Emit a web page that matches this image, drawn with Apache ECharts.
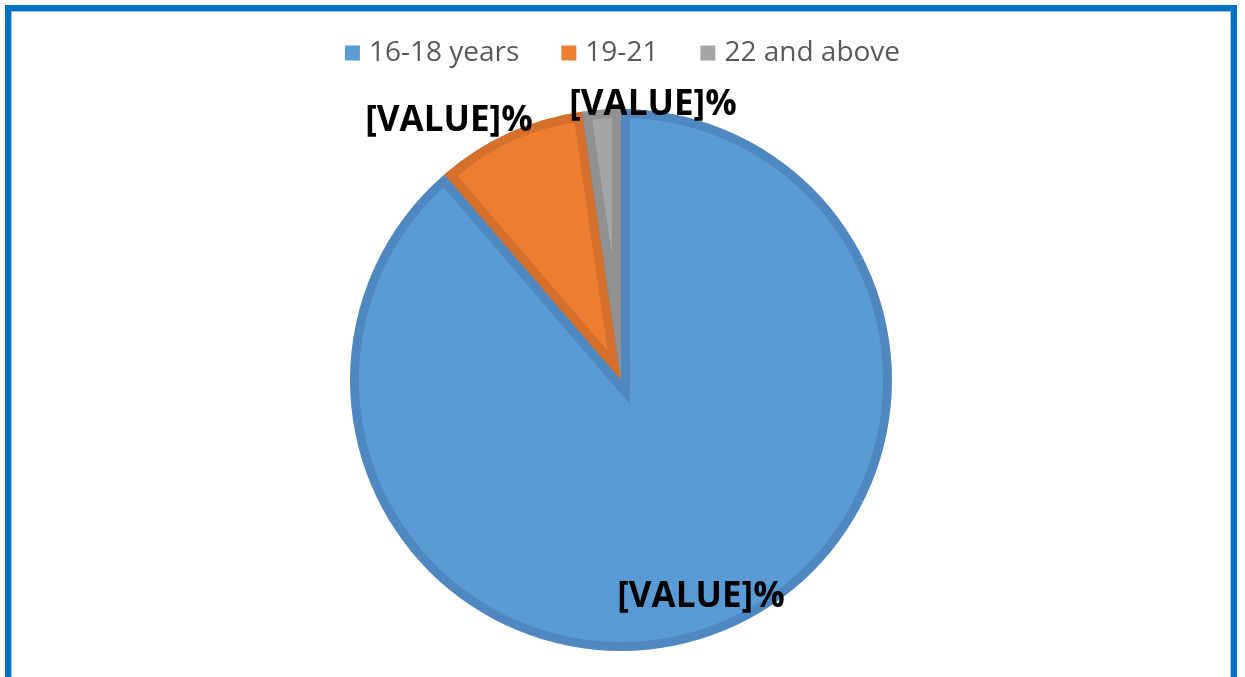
<!DOCTYPE html>
<html>
<head>
<meta charset="utf-8">
<script src="https://cdn.jsdelivr.net/npm/echarts@6/dist/echarts.min.js"></script>
<style>
html, body { margin: 0; padding: 0; background: #fff; }
#chart { position: absolute; left: 0; top: 0; width: 1245px; height: 677px; }
#frame { position: absolute; left: 5px; top: 5px; width: 1220px; height: 700px;
         border: 6px solid #0070C0; box-shadow: inset 0 0 0 1px #9DC3E6; pointer-events: none; }
</style>
</head>
<body>
<div id="chart"></div>
<div id="frame"></div>
<script>
// age groups of the respondents
var categories = ['16-18 years', '19-21', '22 and above'];
var shares = [88.7, 9.0, 2.3];
var labelText = '[VALUE]%';

// look
var fills = ['#5B9BD5', '#ED7D31', '#A5A5A5'];
var edges = ['#4F88C0', '#D4702C', '#919191'];
var labelAt = [[701, 597], [449, 121], [653, 105]];
var cx = 621, cy = 380, R = 271, bw = 9;
var clear = 'rgba(0,0,0,0)';

var total = shares.reduce(function (a, b) { return a + b; }, 0);
var startDeg = [];   // clockwise from 12 o'clock
var acc = 0;
shares.forEach(function (v) { startDeg.push(acc / total * 360); acc += v; });

function rad(d) { return d * Math.PI / 180; }

// whole pie again, only some slices painted
function layer(colors, c, r) {
    return {
        type: 'pie', silent: true, animation: false,
        center: c, radius: r, startAngle: 90, clockwise: true,
        label: { show: false }, labelLine: { show: false },
        emphasis: { disabled: true },
        data: shares.map(function (v, j) {
            return { value: v, itemStyle: { color: colors[j], borderWidth: 0 } };
        })
    };
}

var series = [];
// dark outline colour for every slice
series.push(layer(edges, [cx, cy], R));
// light blue inside
series.push(layer([fills[0], edges[0], edges[0]], [cx, cy], R - bw));
// blue outline along the small slices
var psi = 360 - shares[0] / total * 360;
var m = startDeg[1] + psi / 2;
var s = bw / Math.sin(rad(psi / 2));
series.push(layer([clear, edges[0], edges[0]],
    [cx - s * Math.sin(rad(m)), cy + s * Math.cos(rad(m))],
    s * Math.cos(rad(psi / 2)) + Math.sqrt(R * R - bw * bw) - 0.5));
// small slices' own outline
series.push(layer([clear, edges[1], edges[2]], [cx, cy], R));
// small slices' light inside
[1, 2].forEach(function (i) {
    var phi = shares[i] / total * 360;
    var mi = startDeg[i] + phi / 2;
    var si = bw / Math.sin(rad(phi / 2));
    var r1 = R - bw - si;
    var r2 = -si * Math.cos(rad(phi / 2)) + Math.sqrt((R - bw) * (R - bw) - bw * bw);
    var cols = shares.map(function (v, j) { return j === i ? fills[i] : clear; });
    series.push(layer(cols, [cx + si * Math.sin(rad(mi)), cy - si * Math.cos(rad(mi))], (r1 + r2) / 2));
});
// labels
series.push({
    type: 'pie', animation: false, z: 5,
    center: [cx, cy], radius: R, startAngle: 90,
    itemStyle: { color: clear, borderWidth: 0 },
    label: {
        show: true, formatter: labelText, color: '#000',
        fontFamily: 'Open Sans', fontWeight: 'bold', fontSize: 35
    },
    labelLine: { show: false },
    labelLayout: function (p) {
        var q = labelAt[p.dataIndex];
        return { x: q[0], y: q[1], align: 'center', verticalAlign: 'middle' };
    },
    data: categories.map(function (n, i) { return { name: n, value: shares[i] }; })
});

var myChart = echarts.init(document.getElementById('chart'));
myChart.setOption({
    animation: false,
    legend: {
        top: 34, left: 'center',
        icon: 'rect', itemWidth: 15, itemHeight: 15, itemGap: 42,
        textStyle: { fontFamily: 'Open Sans', fontSize: 28, color: '#595959', padding: [0, 0, 0, 4] },
        data: categories.map(function (n, i) {
            return { name: n, itemStyle: { color: fills[i], opacity: 1 } };
        })
    },
    series: series
});
</script>
</body>
</html>
